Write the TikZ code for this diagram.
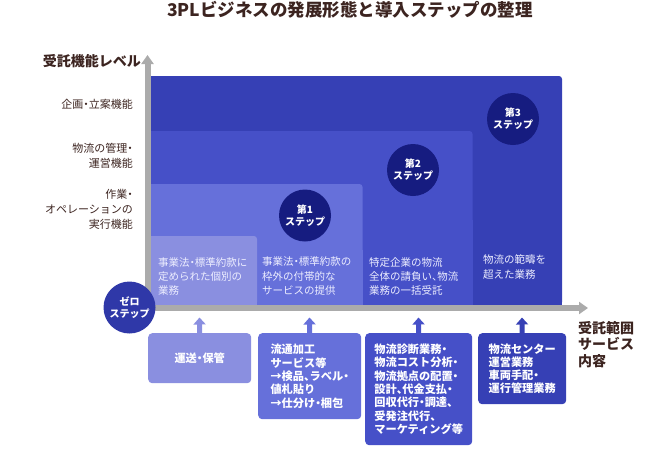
\documentclass[tikz,border=0pt]{standalone}
\usepackage{fontspec}
\newfontfamily\jp{Noto Sans CJK JP}[RawFeature=+halt]
\usetikzlibrary{arrows.meta}
\definecolor{cA}{HTML}{3640B5}
\definecolor{cB}{HTML}{4650C8}
\definecolor{cC}{HTML}{6670DA}
\definecolor{cD}{HTML}{8A8FE0}
\definecolor{navy}{HTML}{161C80}
\definecolor{zeroc}{HTML}{2F38A8}
\definecolor{axisg}{HTML}{ABABAB}
\definecolor{brownt}{HTML}{3C2420}
\definecolor{txtw}{HTML}{EDEEFF}
\begin{document}
\begin{tikzpicture}[x=1pt,y=-1pt,
  every node/.style={font=\jp},
  lvl/.style={text=brownt, font=\jp\fontsize{11}{15}\selectfont, align=right, anchor=east, inner sep=0},
  rtext/.style={text=txtw, font=\jp\fontsize{10.5}{14.2}\selectfont, align=left, anchor=west, inner sep=0},
  stepc/.style={circle, minimum size=52pt, inner sep=0, text=white, font=\jp\bfseries\fontsize{10}{12}\selectfont, align=center},
  sbox/.style={rounded corners=4pt, inner sep=0, text=white, font=\jp\bfseries\fontsize{11.2}{13.3}\selectfont, align=left, anchor=north west},
  axisline/.style={draw=axisg, line width=6pt, -{Triangle[width=12pt,length=9pt]}},
  uparr/.style={line width=5pt, -{Triangle[width=12pt,length=7pt]}},
  axlabel/.style={text=brownt, font=\jp\bfseries\fontsize{14}{16.5}\selectfont, inner sep=0},
]
\useasboundingbox (0,0) rectangle (670,448);

% title
\node[font=\jp\bfseries\fontsize{17.5}{20}\selectfont, text=brownt] (title) at (350,10) {3PLビジネスの発展形態と導入ステップの整理};

% nested areas
\fill[cA, rounded corners=3pt] (150,76) rectangle (562,305);
\fill[cA] (150,76) rectangle (300,305);
\fill[cA] (150,200) rectangle (562,305);
\fill[cB, rounded corners=3pt] (150,131) rectangle (472.5,305);
\fill[cB] (150,131) rectangle (300,305);
\fill[cB] (150,220) rectangle (472.5,305);
\fill[cC, rounded corners=3pt] (150,184) rectangle (362.5,305);
\fill[cC] (150,184) rectangle (250,305);
\fill[cC] (150,250) rectangle (362.5,305);
\fill[cD, rounded corners=3pt] (150,236) rectangle (257,305);
\fill[cD] (150,236) rectangle (200,305);
\fill[cD] (150,270) rectangle (257,305);

% texts in areas
\node[rtext] (t0) at (158,276.5) {事業法・標準約款に\\定められた個別の\\業務};
\node[rtext] (t1) at (262,276) {事業法・標準約款の\\枠外の付帯的な\\サービスの提供};
\node[rtext] (t2) at (369,276.5) {特定企業の物流\\全体の請負い、物流\\業務の一括受託};
\node[rtext] (t3) at (483,267) {物流の範疇を\\超えた業務};

% axes
\coordinate (yo) at (147.5,311);
\coordinate (ytop) at (147.5,55);
\coordinate (xo) at (144.5,308);
\coordinate (xend) at (588,308);
\draw[axisline] (yo) -- (ytop);
\draw[axisline] (xo) -- (xend);

% axis labels
\node[axlabel, anchor=east] (ylab) at (141,61) {受託機能レベル};
\node[axlabel, anchor=west, align=left] (xlab) at (578,344.5) {受託範囲\\サービス\\内容};
\node[lvl] (l1) at (133,104) {企画・立案機能};
\node[lvl] (l2) at (133,155.5) {物流の管理・\\運営機能};
\node[lvl] (l3) at (133,209) {作業・\\オペレーションの\\実行機能};

% step circles
\node[stepc, fill=zeroc] (s0) at (129.5,307.5) {ゼロ\\ステップ};
\node[stepc, fill=navy] (s1) at (305,215.5) {第1\\ステップ};
\node[stepc, fill=navy] (s2) at (413,170) {第2\\ステップ};
\node[stepc, fill=navy] (s3) at (513,119) {第3\\ステップ};

% bottom boxes
\node[sbox, fill=cD, minimum width=103pt, minimum height=50pt, align=center] (b0) at (148,333) {運送・保管};
\node[sbox, fill=cC, minimum width=103pt, minimum height=86pt] (b1) at (258,333) {流通加工\\サービス等\\→検品、ラベル・\\値札貼り\\→仕分け・梱包};
\node[sbox, fill=cB, minimum width=107pt, minimum height=112pt] (b2) at (365,333) {物流診断業務・\\物流コスト分析・\\物流拠点の配置・\\設計、代金支払・\\回収代行・調達、\\受発注代行、\\マーケティング等};
\node[sbox, fill=cA, minimum width=88pt, minimum height=71pt] (b3) at (478,333) {物流センター\\運営業務\\車両手配・\\運行管理業務};

% up arrows
\coordinate (a0) at (199.5,317.5);
\coordinate (a1) at (309.5,317.5);
\coordinate (a2) at (418.5,317.5);
\coordinate (a3) at (522,317.5);
\draw[uparr, cD] (b0.north) -- (a0);
\draw[uparr, cC] (b1.north) -- (a1);
\draw[uparr, cB] (b2.north) -- (a2);
\draw[uparr, cA] (b3.north) -- (a3);
\end{tikzpicture}
\end{document}
